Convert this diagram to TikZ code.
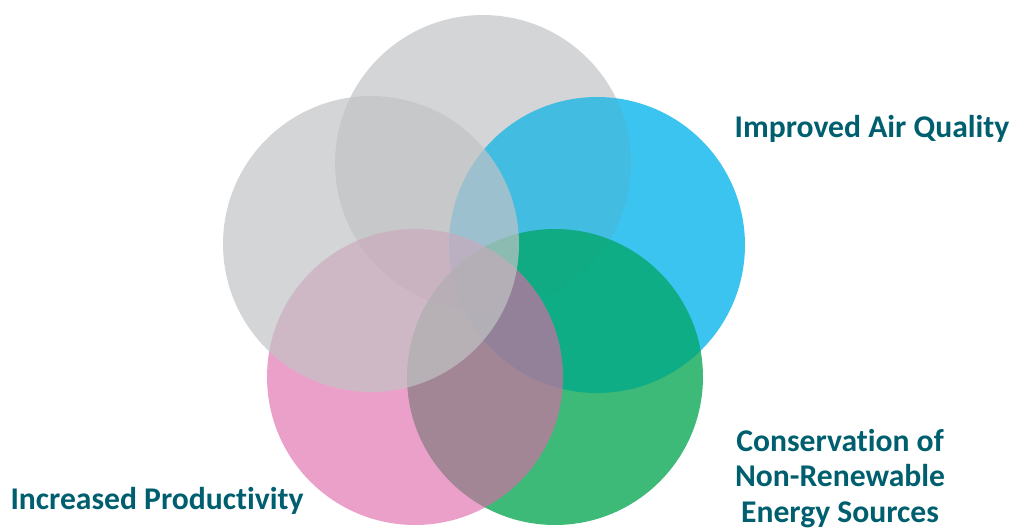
\documentclass[tikz,border=0pt]{standalone}
\usepackage{fontspec}
\setmainfont{Carlito}[Ligatures=NoCommon]
\definecolor{setgray}{RGB}{194,195,197}
\definecolor{setblue}{RGB}{10,181,235}
\definecolor{setgreen}{RGB}{3,165,80}
\definecolor{setpink}{RGB}{225,109,172}
\definecolor{lbl}{RGB}{0,95,110}
\begin{document}
\begin{tikzpicture}[
			x=0.02cm, y=-0.02cm,
			set/.style = {
				circle,
				inner sep = 0pt,
				minimum size = 5.92cm
			},
			txt/.style = {
				anchor = base,
				align = center,
				text = lbl,
				font = \bfseries\fontsize{18}{20}\selectfont
			}
		]
		\useasboundingbox (0,0) rectangle (1014,529);
		\node[set, fill=setgray, fill opacity=0.7]   (T) at (483,163) {};
		\node[set, fill=setblue, fill opacity=0.8]   (A) at (597,245) {};
		\begin{scope}
			\clip (483,163) circle(148);
			\fill[setgray, fill opacity=0.12] (597,245) circle(148);
		\end{scope}
		\node[set, fill=setgreen, fill opacity=0.77] (E) at (555,377) {};
		% bluer tint where air and energy overlap
		\begin{scope}
			\clip (597,245) circle(148);
			\fill[setblue, fill opacity=0.15] (555,377) circle(148);
		\end{scope}
		\node[set, fill=setpink, fill opacity=0.65]  (P) at (415,377) {};
		\begin{scope}
			\clip (555,377) circle(148);
			\fill[gray, fill opacity=0.12] (415,377) circle(148);
		\end{scope}
		\node[set, fill=setgray, fill opacity=0.7]   (L) at (371,244) {};
		\node[txt] (Alabel) at (872,137) {Improved Air Quality};
		\node[txt] (Elabel) at (840,522) {Conservation of\\ Non-Renewable\\ Energy Sources};
		\node[txt] (Plabel) at (157,509) {Increased Productivity};
	\end{tikzpicture}
\end{document}
